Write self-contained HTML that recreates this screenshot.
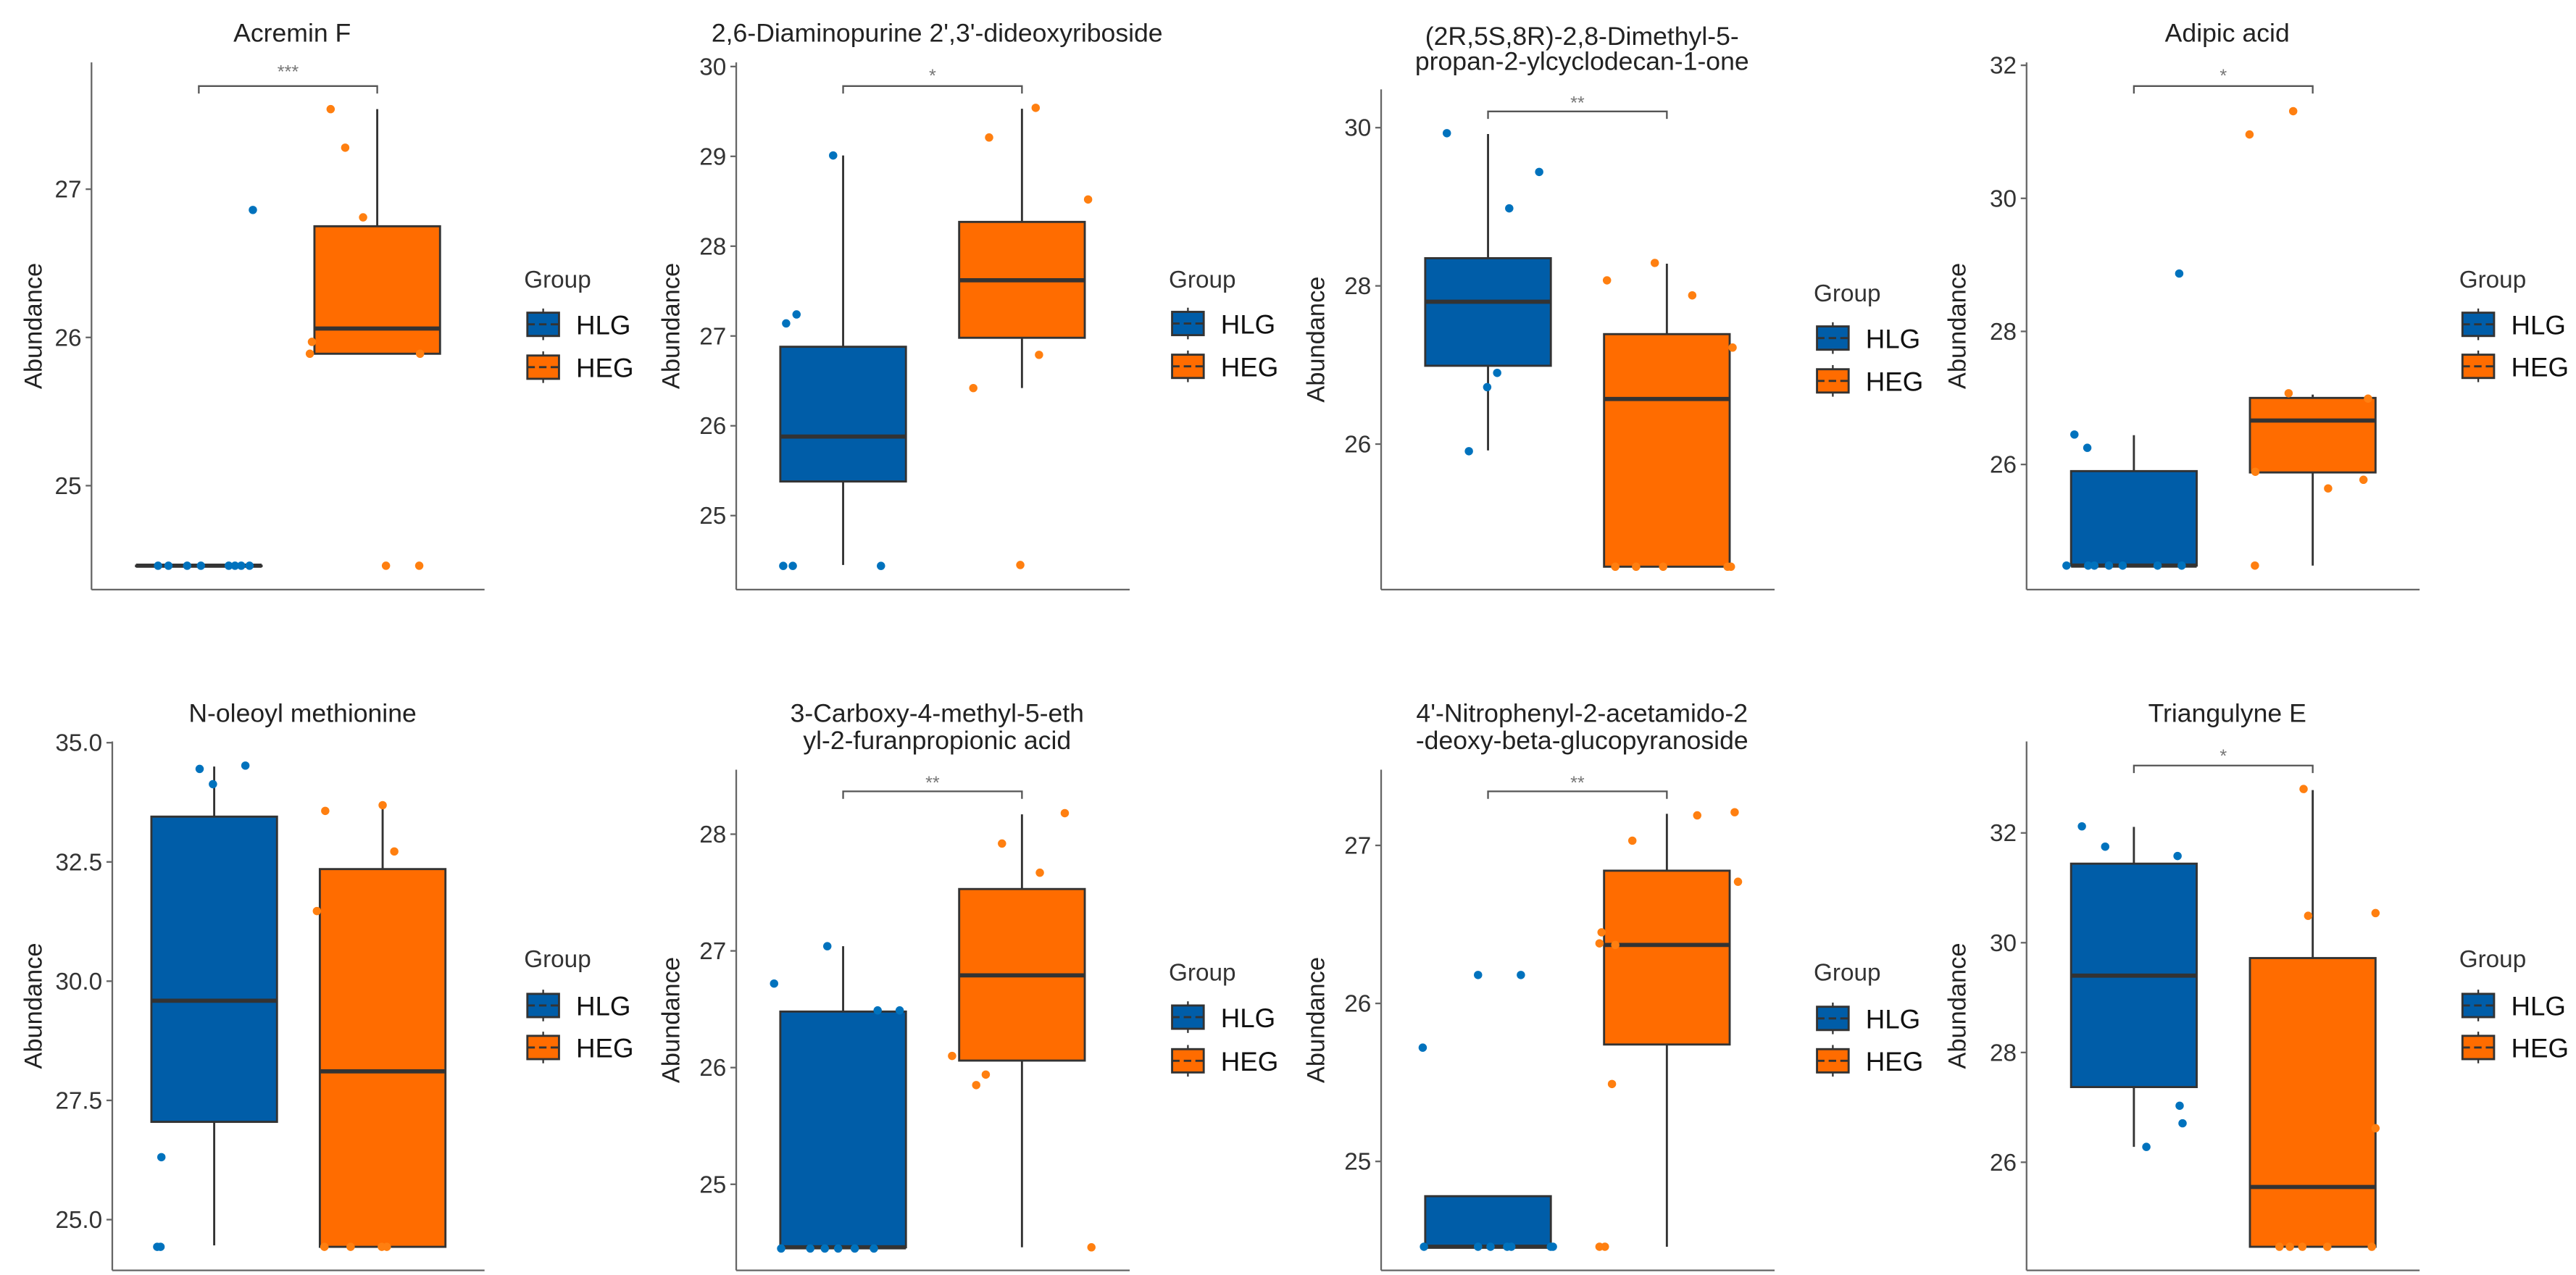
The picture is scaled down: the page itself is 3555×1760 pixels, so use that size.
<!DOCTYPE html>
<html><head><meta charset="utf-8">
<style>
html,body{margin:0;padding:0;background:#fff;}
svg{display:block;}
text{font-family:"Liberation Sans",sans-serif;}
</style></head>
<body>
<svg id="chart" xmlns="http://www.w3.org/2000/svg" width="3555" height="1760" viewBox="0 0 3555 1760">
<rect width="3555" height="1760" fill="#ffffff"/>
</svg>
<script>
// ---- data ----
const titles = [
  ["Acremin F"],
  ["2,6-Diaminopurine 2',3'-dideoxyriboside"],
  ["(2R,5S,8R)-2,8-Dimethyl-5-","propan-2-ylcyclodecan-1-one"],
  ["Adipic acid"],
  ["N-oleoyl methionine"],
  ["3-Carboxy-4-methyl-5-eth","yl-2-furanpropionic acid"],
  ["4'-Nitrophenyl-2-acetamido-2","-deoxy-beta-glucopyranoside"],
  ["Triangulyne E"]
];
const groups = ["HLG","HEG"];
const sigLabels = ["***","*","**","*","","**","**","*"];
const tickVals = [
  [25,26,27],[25,26,27,28,29,30],[26,28,30],[26,28,30,32],
  [25.0,27.5,30.0,32.5,35.0],[25,26,27,28],[25,26,27],[26,28,30,32]
];
const tickLabels = [
  ["25","26","27"],["25","26","27","28","29","30"],["26","28","30"],["26","28","30","32"],
  ["25.0","27.5","30.0","32.5","35.0"],["25","26","27","28"],["25","26","27"],["26","28","30","32"]
];
// [whiskerLow, q1, median, q3, whiskerHigh]
const hlgStats = [
  [24.46,24.46,24.46,24.46,24.46],
  [24.45,25.38,25.88,26.88,29.01],
  [25.92,26.99,27.80,28.35,29.92],
  [24.48,24.48,24.48,25.90,26.44],
  [24.46,27.05,29.59,33.45,34.50],
  [24.46,24.46,24.46,26.48,27.04],
  [24.46,24.46,24.46,24.78,24.78],
  [26.28,27.37,29.40,31.44,32.11]
];
const hegStats = [
  [25.89,25.89,26.06,26.75,27.54],
  [26.42,26.98,27.62,28.27,29.53],
  [24.45,24.45,26.57,27.39,28.28],
  [24.48,25.88,26.66,27.00,27.05],
  [24.43,24.43,28.11,32.35,33.69],
  [24.46,26.06,26.79,27.53,28.17],
  [24.46,25.74,26.37,26.84,27.20],
  [24.46,24.46,25.55,29.72,32.78]
];
const hlgPoints = [
  [24.46,24.46,24.46,24.46,24.46,24.46,24.46,24.46,26.86],
  [29.01,27.24,27.14,24.44,24.44,24.44],
  [29.93,29.44,28.98,26.90,26.72,25.91],
  [26.45,26.25,28.87,24.48,24.48,24.48,24.48,24.48,24.48,24.48],
  [34.45,34.52,34.13,26.31,24.43,24.43],
  [27.04,26.72,26.49,26.49,24.45,24.45,24.45,24.45,24.45,24.45],
  [26.18,26.18,25.72,24.46,24.46,24.46,24.46,24.46,24.46,24.46],
  [32.12,31.75,31.58,27.03,26.71,26.28]
];
const hlgJitter = [
  [-98,-73,-28,5,72,87,102,122,130],
  [-24,-112,-137,-144,-121,91],
  [-99,123,51,22,-2,-46],
  [-143,-112,109,-162,-110,-95,-60,-27,57,115],
  [-35,75,-3,-127,-137,-129],
  [-38,-166,83,136,-149,-79,-44,-12,28,74],
  [-24,79,-157,-154,-24,6,46,56,151,156],
  [-125,-69,105,110,117,30]
];
const hegPoints = [
  [27.54,27.28,26.81,25.97,25.89,25.89,24.46,24.46],
  [29.54,29.21,28.52,26.79,26.42,24.45],
  [28.29,28.07,27.88,27.22,24.45,24.45,24.45,24.45,24.45],
  [31.31,30.96,27.07,26.99,25.89,25.64,25.77,24.48],
  [33.69,33.57,32.72,31.47,24.43,24.43,24.43,24.43],
  [28.18,27.92,27.67,26.10,25.94,25.85,24.46],
  [27.21,27.19,27.03,26.77,26.45,26.38,26.37,25.49,24.46,24.46],
  [32.80,30.49,30.54,26.62,24.46,24.46,24.46,24.46,24.46]
];
const hegJitter = [
  [-112,-77,-34,-157,-162,103,21,101],
  [33,-79,159,41,-117,-4],
  [-29,-144,61,158,-124,-74,-9,146,154],
  [-47,-152,-58,133,-138,37,122,-139],
  [0,-138,28,-158,-140,-77,-2,10],
  [103,-48,43,-168,-87,-110,167],
  [163,73,-83,171,-157,-162,-124,-132,-162,-149],
  [-22,-11,151,151,-80,-55,-25,35,142]
];
// ---- layout (panel-local units, scaled by S) ----
const S = 900/1568;
const L = [
 {ox:0,oy:0,ax:220,top:150,bot:1418,right:1165,c:[478,907],t0:1168,t1:455,tY:[100],sigY:175,brY:207,gY:692,k:[752,855],kx:1268},
 {ox:880,oy:0,ax:237,top:150,bot:1418,right:1183,c:[494,924],t0:1240,t1:160,tY:[100],sigY:185,brY:207,gY:692,k:[750,853],kx:1285},
 {ox:1770,oy:0,ax:237,top:215,bot:1418,right:1183,c:[494,924],t0:1068,t1:307,tY:[108,168],sigY:250,brY:268,gY:725,k:[785,888],kx:1285},
 {ox:2655,oy:0,ax:247,top:150,bot:1418,right:1192,c:[505,935],t0:1117,t1:157,tY:[100],sigY:185,brY:207,gY:692,k:[752,853],kx:1295},
 {ox:0,oy:880,ax:270,top:250,bot:1522,right:1165,c:[515,920],t0:1400,t1:253,tY:[203],sigY:0,brY:0,gY:793,k:[857,958],kx:1268},
 {ox:880,oy:880,ax:237,top:318,bot:1522,right:1183,c:[494,924],t0:1315,t1:473,tY:[203,268],sigY:352,brY:370,gY:825,k:[885,990],kx:1285},
 {ox:1770,oy:880,ax:237,top:318,bot:1522,right:1183,c:[494,924],t0:1260,t1:500,tY:[203,268],sigY:352,brY:370,gY:825,k:[888,990],kx:1285},
 {ox:2655,oy:880,ax:247,top:250,bot:1522,right:1192,c:[505,935],t0:1262,t1:470,tY:[203],sigY:288,brY:308,gY:793,k:[857,958],kx:1295}
];
const FILL = ["#005da8","#ff6c00"];
const PT = ["#0072bd","#ff7f10"];
const HW = 151;
const NS = "http://www.w3.org/2000/svg";
const svg = document.getElementById("chart");
function mk(tag, attrs, parent){
  const e = document.createElementNS(NS, tag);
  for (const k in attrs) e.setAttribute(k, attrs[k]);
  parent.appendChild(e);
  return e;
}
for (let p = 0; p < 8; p++){
  const lay = L[p];
  const tv = tickVals[p];
  const v0 = tv[0], v1 = tv[tv.length-1];
  const y = v => lay.t0 + (v - v0) * (lay.t1 - lay.t0) / (v1 - v0);
  const g = mk("g", {transform:`translate(${lay.ox},${lay.oy}) scale(${S})`}, svg);
  
  
  // title
  lay.tY.forEach((ty, i) => {
    const t = mk("text", {x:(lay.ax+lay.right)/2+10, y:ty, "font-size":62, "text-anchor":"middle", fill:"#222"}, g);
    t.textContent = titles[p][i];
    
    
  });
  // axes
  const ya = mk("line", {x1:lay.ax, y1:lay.top, x2:lay.ax, y2:lay.bot, stroke:"#666", "stroke-width":4}, g);
  
  
  const xa = mk("line", {x1:lay.ax, y1:lay.bot, x2:lay.right, y2:lay.bot, stroke:"#666", "stroke-width":4}, g);
  
  
  tv.forEach((v, i) => {
    const yy = y(v);
    mk("line", {x1:lay.ax-14, y1:yy, x2:lay.ax, y2:yy, stroke:"#666", "stroke-width":4}, g);
    const t = mk("text", {x:lay.ax-24, y:yy+20, "font-size":58, "text-anchor":"end", fill:"#333"}, g);
    t.textContent = tickLabels[p][i];
    
    
  });
  const yt = mk("text", {x:0, y:0, "font-size":60, "text-anchor":"middle", fill:"#222",
     transform:`translate(100,${(lay.top+lay.bot)/2}) rotate(-90)`}, g);
  yt.textContent = "Abundance";
  
  
  // boxes
  [hlgStats[p], hegStats[p]].forEach((st, gi) => {
    const cx = lay.c[gi];
    const bg = mk("g", {}, g);
    
    
    mk("line", {x1:cx, y1:y(st[0]), x2:cx, y2:y(st[1]), stroke:"#333", "stroke-width":5}, bg);
    mk("line", {x1:cx, y1:y(st[3]), x2:cx, y2:y(st[4]), stroke:"#333", "stroke-width":5}, bg);
    const h = Math.max(y(st[1]) - y(st[3]), 1);
    mk("rect", {x:cx-HW, y:y(st[3]), width:HW*2, height:h, fill:FILL[gi], stroke:"#333", "stroke-width":5}, bg);
    mk("line", {x1:cx-HW, y1:y(st[2]), x2:cx+HW, y2:y(st[2]), stroke:"#333", "stroke-width":10}, bg);
  });
  // points
  [[hlgPoints[p], hlgJitter[p]], [hegPoints[p], hegJitter[p]]].forEach((pair, gi) => {
    pair[0].forEach((v, i) => {
      const c = mk("circle", {cx:lay.c[gi] + pair[1][i], cy:y(v), r:10, fill:PT[gi]}, g);
      
      
    });
  });
  // significance
  if (sigLabels[p]){
    const b = mk("path", {d:`M${lay.c[0]},${lay.brY+18}V${lay.brY}H${lay.c[1]}V${lay.brY+18}`, fill:"none", stroke:"#555", "stroke-width":4}, g);
    
    
    const s = mk("text", {x:(lay.c[0]+lay.c[1])/2, y:lay.sigY+12, "font-size":44, "text-anchor":"middle", fill:"#777"}, g);
    s.textContent = sigLabels[p];
    
    
  }
  // legend
  const lg = mk("g", {}, g);
  
  
  const gt = mk("text", {x:lay.kx-8, y:lay.gY, "font-size":58, fill:"#333"}, lg);
  gt.textContent = "Group";
  
  
  groups.forEach((gn, gi) => {
    const ky = lay.k[gi];
    const e = mk("g", {}, lg);
    
    
    const kcx = lay.kx + 38;
    mk("line", {x1:kcx, y1:ky-10, x2:kcx, y2:ky+66, stroke:"#333", "stroke-width":4}, e);
    mk("rect", {x:lay.kx, y:ky, width:76, height:56, fill:FILL[gi], stroke:"#333", "stroke-width":5}, e);
    mk("line", {x1:lay.kx, y1:ky+28, x2:lay.kx+76, y2:ky+28, stroke:"#333", "stroke-width":5, "stroke-dasharray":"18,10"}, e);
    const lt = mk("text", {x:lay.kx+117, y:ky+52, "font-size":64, fill:"#111"}, e);
    lt.textContent = gn;
  });
}
</script>
</body></html>
